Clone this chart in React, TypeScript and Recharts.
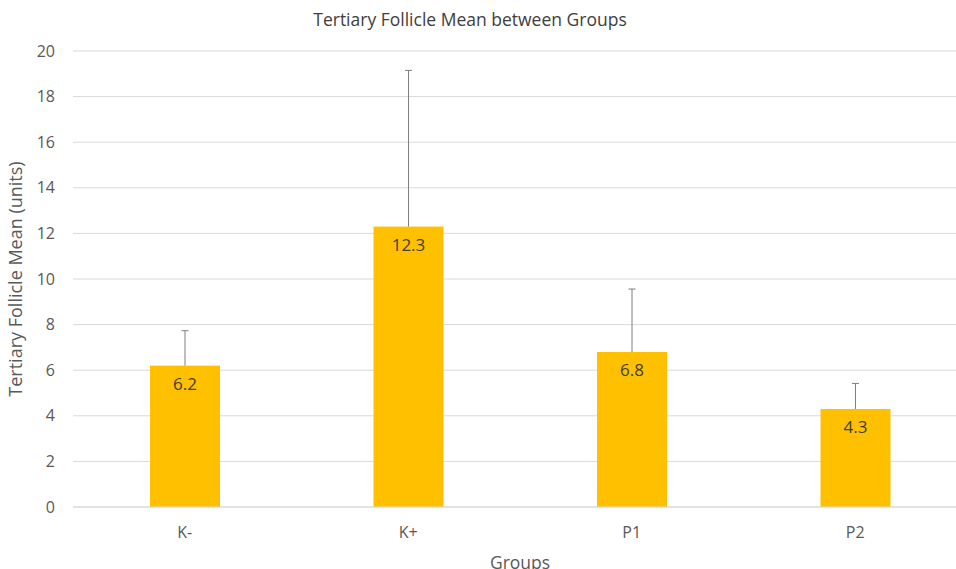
import { BarChart, Bar, XAxis, YAxis, CartesianGrid, LabelList } from 'recharts';

const groups = ['K-', 'K+', 'P1', 'P2'];
const means = [6.2, 12.3, 6.8, 4.3];
const errPlus = [1.53, 6.85, 2.76, 1.12];
const yTicks = [0, 2, 4, 6, 8, 10, 12, 14, 16, 18, 20];

const data = groups.map((g, i) => ({
  group: g,
  mean: means[i],
  errPlus: errPlus[i],
}));

const FONT = '"Open Sans", "Liberation Sans", sans-serif';

// bar + upper-only error whisker (Excel style, no lower cap)
const BarWithError = (props: any) => {
  const { x, y, width, height, payload, fill } = props;
  const pxPerUnit = height / payload.mean;
  const top = y - payload.errPlus * pxPerUnit;
  const cx = x + width / 2;
  return (
    <g>
      <rect x={x} y={y} width={width} height={height} fill={fill} />
      <line x1={cx} y1={y} x2={cx} y2={top} stroke="#7f7f7f" strokeWidth={1} />
      <line x1={cx - 3.5} y1={top} x2={cx + 3.5} y2={top} stroke="#7f7f7f" strokeWidth={1} />
    </g>
  );
};

const BarLabel = ({ x, y, width, value }: any) => (
  <text
    x={x + width / 2}
    y={y + 18}
    textAnchor="middle"
    dominantBaseline="central"
    fill="#404040"
    fontSize={17}
    fontFamily={FONT}
  >
    {value}
  </text>
);

export default function App() {
  return (
    <div style={{ position: 'absolute', left: 0, top: 0, width: 956, height: 569, overflow: 'hidden', background: '#fff' }}>
      <div
        style={{
          position: 'absolute',
          left: 0,
          width: 940,
          top: 7,
          textAlign: 'center',
          fontFamily: FONT,
          fontSize: 17.5,
          color: '#404040',
        }}
      >
        Tertiary Follicle Mean between Groups
      </div>
      <BarChart
        width={967}
        height={569}
        data={data}
        margin={{ top: 51, right: 0, left: 0, bottom: 0 }}
        style={{ fontFamily: FONT }}
      >
        <CartesianGrid vertical={false} stroke="#d9d9d9" strokeWidth={1} />
        <XAxis
          dataKey="group"
          axisLine={{ stroke: '#d9d9d9' }}
          tickLine={false}
          height={62}
          tick={{ fill: '#595959', fontSize: 16 }}
          tickMargin={14}
          label={{ value: 'Groups', position: 'insideBottom', offset: 0, fill: '#595959', fontSize: 17.5 }}
        />
        <YAxis
          domain={[0, 20]}
          ticks={yTicks}
          axisLine={false}
          tickLine={false}
          width={73}
          tick={{ fill: '#595959', fontSize: 16 }}
          tickMargin={12}
          label={{
            value: 'Tertiary Follicle Mean (units)',
            angle: -90,
            position: 'insideLeft',
            offset: 16,
            fill: '#595959',
            fontSize: 18,
            style: { textAnchor: 'middle' },
          }}
        />
        <Bar dataKey="mean" fill="#ffc000" barSize={70} isAnimationActive={false} shape={<BarWithError />}>
          <LabelList dataKey="mean" content={<BarLabel />} />
        </Bar>
      </BarChart>
    </div>
  );
}
